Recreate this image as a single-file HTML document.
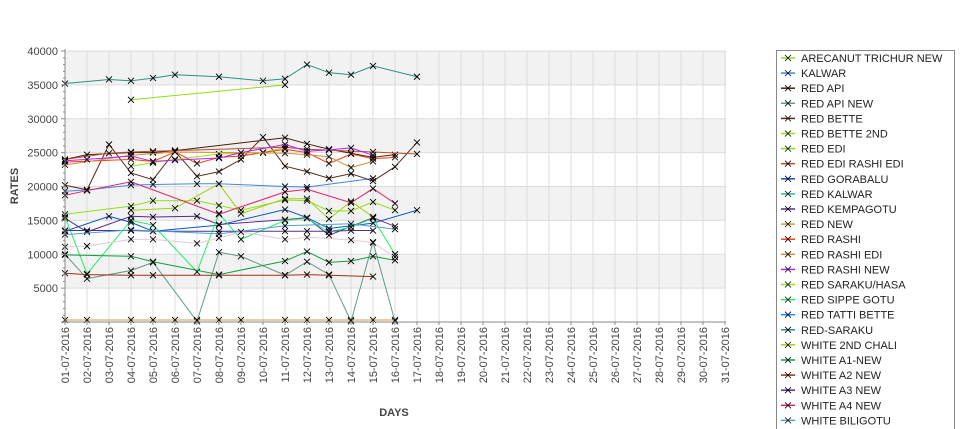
<!DOCTYPE html>
<html><head><meta charset="utf-8">
<style>
body{margin:0;background:#fff;font-family:"Liberation Sans","DejaVu Sans",sans-serif;overflow:hidden;}
#wrap{position:relative;width:975px;height:429px;overflow:hidden;}
svg{position:absolute;left:0;top:0;}
</style></head>
<body>
<div id="wrap">
<svg id="c" width="975" height="429"></svg>
</div>
<script>
const dates = ["01-07-2016","02-07-2016","03-07-2016","04-07-2016","05-07-2016","06-07-2016","07-07-2016","08-07-2016","09-07-2016","10-07-2016","11-07-2016","12-07-2016","13-07-2016","14-07-2016","15-07-2016","16-07-2016","17-07-2016","18-07-2016","19-07-2016","20-07-2016","21-07-2016","22-07-2016","23-07-2016","24-07-2016","25-07-2016","26-07-2016","27-07-2016","28-07-2016","29-07-2016","30-07-2016","31-07-2016"];
const yTicks = [5000,10000,15000,20000,25000,30000,35000,40000];
const seriesNames = ["ARECANUT TRICHUR NEW","KALWAR","RED API","RED API NEW","RED BETTE","RED BETTE 2ND","RED EDI","RED EDI RASHI EDI","RED GORABALU","RED KALWAR","RED KEMPAGOTU","RED NEW","RED RASHI","RED RASHI EDI","RED RASHI NEW","RED SARAKU/HASA","RED SIPPE GOTU","RED TATTI BETTE","RED-SARAKU","WHITE 2ND CHALI","WHITE A1-NEW","WHITE A2 NEW","WHITE A3 NEW","WHITE A4 NEW","WHITE BILIGOTU"];
const seriesColors = ["#8fdc1e","#3f87e6","#4a2010","#5f9a8a","#5a2a1a","#9ae600","#80e020","#b8502a","#0a55c8","#20c0a0","#5a2a90","#c8a040","#ff4010","#c89040","#b020ff","#90e020","#20ee60","#1090ff","#2a9080","#a0d010","#10a040","#a03010","#503090","#e02070","#50a0d0"];
const N = null;
const sArecanut   = [N,N,N,32800,N,N,N,N,N,N,35000,N,N,N,N,N,N];
const sKalwar     = [19300,19500,N,20200,20300,N,20400,20400,N,N,20000,19900,N,N,21200,N,N];
const sRedApi     = [24000,24700,N,25000,25000,25300,N,N,N,N,27200,26300,25500,24900,24300,24700,N];
const sRedApiNew  = [10000,6400,N,7600,8800,N,100,10300,9700,N,6900,8900,7000,100,11800,100,N];
const sRedBette   = [20200,19500,26200,22000,21000,25200,21500,22200,24000,27300,23000,22200,21200,21900,20800,22900,26500];
const sBette2nd   = [N,N,N,23000,23500,24000,N,24800,N,25000,25800,N,N,N,N,N,N];
const sRedEdi     = [N,N,N,N,N,N,N,N,N,N,N,N,N,N,N,N,N];
const sEdiRashi   = [24000,N,24900,25100,25200,25300,N,N,N,N,25800,25500,N,N,25100,N,24800];
const sGorabalu   = [13400,N,15600,14700,13400,N,N,14300,N,N,16600,15400,13800,N,14600,N,16500];
const sRedKalwar  = [N,N,N,N,N,N,N,N,N,N,N,N,N,N,N,N,N];
const sKempagotu  = [15300,13300,N,15600,15500,N,15600,14400,N,N,15100,15400,12800,N,15400,14100,N];
const sRedNew     = [300,300,N,300,300,300,300,300,300,N,300,300,300,300,300,300,N];
const sRedRashi   = [23600,N,N,24000,23700,25100,23400,24300,24500,25000,25500,25000,23400,24800,24100,24300,N];
const sRashiEdi   = [23200,N,N,24600,N,25100,N,N,N,N,24900,24700,24400,22800,23700,N,N];
const sRashiNew   = [23800,24000,N,24500,23700,23900,N,24200,25000,N,26200,25200,25400,25700,24600,N,N];
const sSarakuHasa = [15900,N,N,17100,17900,N,17900,17200,16500,N,18000,17900,16400,16400,17700,16500,N];
const sSippeGotu  = [15500,7100,N,15000,14300,N,7400,16000,12200,N,15000,15300,13300,14000,15300,10000,N];
const sTattiBette = [N,N,N,N,N,N,N,N,N,N,N,N,N,N,N,N,N];
const sRedSaraku  = [35200,N,35800,35600,36000,36500,N,36200,N,35600,35900,38000,36800,36500,37800,N,36200];
const s2ndChali   = [N,N,N,16500,N,16800,N,20400,16000,N,18200,18200,15200,17800,15500,N,N];
const sA1New      = [9900,N,N,9700,8900,N,N,7000,N,N,9000,10400,8800,9000,9700,9100,N];
const sA2New      = [7200,7000,N,6900,6900,N,N,6900,N,N,6900,7000,6900,N,6700,N,N];
const sA3New      = [13500,13500,N,13500,13400,N,N,13400,N,N,13400,13400,13400,13500,13500,N,N];
const sA4New      = [18700,19400,N,20700,N,N,N,15900,N,N,19200,19600,N,17600,19700,17500,N];
const sBiligotu   = [12900,N,N,13600,N,N,N,13000,N,N,14200,N,N,14500,N,13700,N];
const sPale       = [11100,11200,N,12200,12200,N,11600,12400,13300,N,12200,12500,N,12100,11700,9600,N];
const seriesData = [sArecanut,sKalwar,sRedApi,sRedApiNew,sRedBette,sBette2nd,sRedEdi,sEdiRashi,sGorabalu,sRedKalwar,sKempagotu,sRedNew,sRedRashi,sRashiEdi,sRashiNew,sSarakuHasa,sSippeGotu,sTattiBette,sRedSaraku,s2ndChali,sA1New,sA2New,sA3New,sA4New,sBiligotu,sPale];
const seriesDrawColors = seriesColors.concat(["#e8c8d8"]);

const svg = document.getElementById('c');
const NS = "http://www.w3.org/2000/svg";
const X0=65, X1=726, Y0=322, Y1=51, YMAX=40000;
const xs = i => X0 + i*(725-X0)/(dates.length-1);
const ys = v => Y0 - v*(Y0-Y1)/YMAX;
function mk(t,a,p){const e=document.createElementNS(NS,t);for(const k in a)e.setAttribute(k,a[k]);(p||svg).appendChild(e);return e;}

for(let k=0;k<8;k++){
  const lo=k*5000, hi=lo+5000;
  if(k%2===1){const r=mk('rect',{x:X0,y:ys(hi),width:X1-X0,height:ys(lo)-ys(hi),fill:'#f2f2f2'});
  
  }
}
yTicks.forEach(v=>{const l=mk('line',{x1:X0,x2:X1,y1:ys(v),y2:ys(v),stroke:'#dcdcdc','stroke-width':1});

});
dates.forEach((d,i)=>{const l=mk('line',{x1:xs(i),x2:xs(i),y1:Y1,y2:Y0,stroke:'#dcdcdc','stroke-width':1});

});

seriesData.forEach((arr,si)=>{
  const g=mk('g',{});
  
  
  const pts=[];arr.forEach((v,i)=>{if(v!==null)pts.push([xs(i),ys(v)]);});
  if(pts.length>1)mk('polyline',{points:pts.map(p=>p.join(',')).join(' '),fill:'none',stroke:seriesDrawColors[si],'stroke-width':1},g);
  pts.forEach(p=>{
    const m=mk('path',{d:`M${p[0]-3},${p[1]-3}L${p[0]+3},${p[1]+3}M${p[0]-3},${p[1]+3}L${p[0]+3},${p[1]-3}`,stroke:'#000','stroke-width':0.9},g);
    
    
  });
});

const ax=mk('line',{x1:X0,x2:X0,y1:Y1-2,y2:Y0,stroke:'#888'});

const bx=mk('line',{x1:X0-4,x2:X1,y1:Y0,y2:Y0,stroke:'#888'});

for(let v=1000;v<=40000;v+=1000){const maj=v%5000===0;mk('line',{x1:X0-(maj?4:2),x2:X0,y1:ys(v),y2:ys(v),stroke:'#888'});}
yTicks.forEach(v=>{const t=mk('text',{x:X0-7,y:ys(v)+4,'text-anchor':'end','font-size':11,fill:'#444'});t.textContent=v;
});
dates.forEach((d,i)=>{
  mk('line',{x1:xs(i),x2:xs(i),y1:Y0,y2:Y0+3,stroke:'#888'});
  const t=mk('text',{x:0,y:0,'text-anchor':'end','font-size':11,fill:'#444',transform:`translate(${xs(i)+4},327) rotate(-90)`});
  t.textContent=d;
  
  
});
const yt=mk('text',{x:0,y:0,'text-anchor':'middle','font-size':11,'font-weight':'bold',fill:'#444',transform:'translate(18,186) rotate(-90)'});
yt.textContent='RATES';
const xt=mk('text',{x:394,y:416,'text-anchor':'middle','font-size':11,'font-weight':'bold',fill:'#444'});
xt.textContent='DAYS';

const lg=mk('g',{});


mk('path',{d:'M776.5,429 L776.5,50.5 L954.5,50.5 L954.5,429',fill:'#fff',stroke:'#888'},lg);
seriesNames.forEach((n,i)=>{
  const y=58+i*15.1;
  const e=mk('g',{},lg);
  
  
  mk('line',{x1:781,x2:795,y1:y,y2:y,stroke:seriesColors[i],'stroke-width':1.5},e);
  mk('path',{d:`M785,${y-3}L791,${y+3}M785,${y+3}L791,${y-3}`,stroke:'#000','stroke-width':0.8},e);
  const t=mk('text',{x:801,y:y+4,'font-size':11,fill:'#222'},e);t.textContent=n;
});
</script>
</body></html>
